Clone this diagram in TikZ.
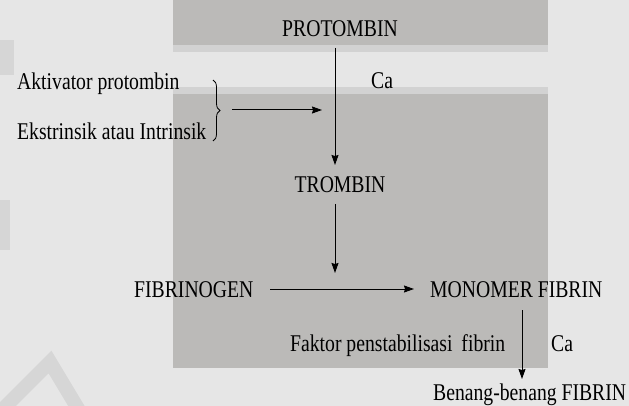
\documentclass[tikz,border=0pt]{standalone}
\usepackage{fontspec}
\setmainfont[FakeStretch=0.82]{Liberation Serif}
\usetikzlibrary{decorations.pathreplacing,arrows.meta}
\definecolor{bgc}{HTML}{E6E6E6}
\definecolor{boxc}{HTML}{BBBAB8}
\definecolor{bandc}{HTML}{D2D2D2}
\definecolor{wmc}{HTML}{D6D6D6}
\begin{document}
\begin{tikzpicture}[x=1pt,y=-1pt,
  lbl/.style={inner sep=0pt, font=\fontsize{24}{28}\selectfont, text=black},
  arr/.style={line width=1pt, draw=black, -{Stealth[length=10pt,width=7pt,inset=1pt]}},
  ln/.style={line width=0.8pt, draw=black},
]
\fill[bgc] (0,0) rectangle (629,406);
\useasboundingbox (0,0) rectangle (629,406);
% faint watermark shapes
\fill[wmc] (0,40) rectangle (14,75);
\fill[wmc] (0,200) rectangle (10,250);
\draw[wmc, line width=14pt] (0,412) -- (50,362) -- (80,412);
% grey panels
\fill[boxc] (173,0) rectangle (548,45);
\fill[bandc] (173,45) rectangle (548,52);
\fill[bandc] (173,87) rectangle (548,94);
\fill[boxc] (173,94) rectangle (548,368);
% nodes
\node[lbl, anchor=base] (prot) at (340,37) {PROTOMBIN};
\node[lbl, anchor=base west] (ca1) at (371,89) {Ca};
\node[lbl, anchor=base west] (akt) at (17,90) {Aktivator protombin};
\node[lbl, anchor=base west] (eks) at (17,140) {Ekstrinsik atau Intrinsik};
\node[lbl, anchor=base] (trom) at (340,193) {TROMBIN};
\node[lbl, anchor=base west] (fibg) at (134,297) {FIBRINOGEN};
\node[lbl, anchor=base west] (mono) at (430,297) {MONOMER FIBRIN};
\node[lbl, anchor=base west] (fak) at (290,351) {Faktor penstabilisasi\, fibrin};
\node[lbl, anchor=base west] (ca2) at (551,351) {Ca};
\node[lbl, anchor=base west] (ben) at (433,400) {Benang-benang FIBRIN};
% coordinates
\coordinate (bt) at (213,80);
\coordinate (bb) at (213,141);
\coordinate (btip) at (222,110);
\coordinate (aend) at (322,110);
\coordinate (p1) at (335,48);
\coordinate (t1) at (335,165);
\coordinate (t2) at (335,204);
\coordinate (t3) at (335,273);
\coordinate (f1) at (270,289);
\coordinate (m1) at (414,289);
\coordinate (m2) at (522,310);
\coordinate (b1) at (522,379);
% connectors
\draw[ln, decorate, decoration={brace, amplitude=7pt}] (bt) -- (bb);
\draw[arr] ([xshift=10pt]btip) -- (aend);
\draw[arr] (p1) -- (t1);
\draw[arr] (t2) -- (t3);
\draw[arr] (f1) -- (m1);
\draw[arr] (m2) -- (b1);
\end{tikzpicture}
\end{document}
